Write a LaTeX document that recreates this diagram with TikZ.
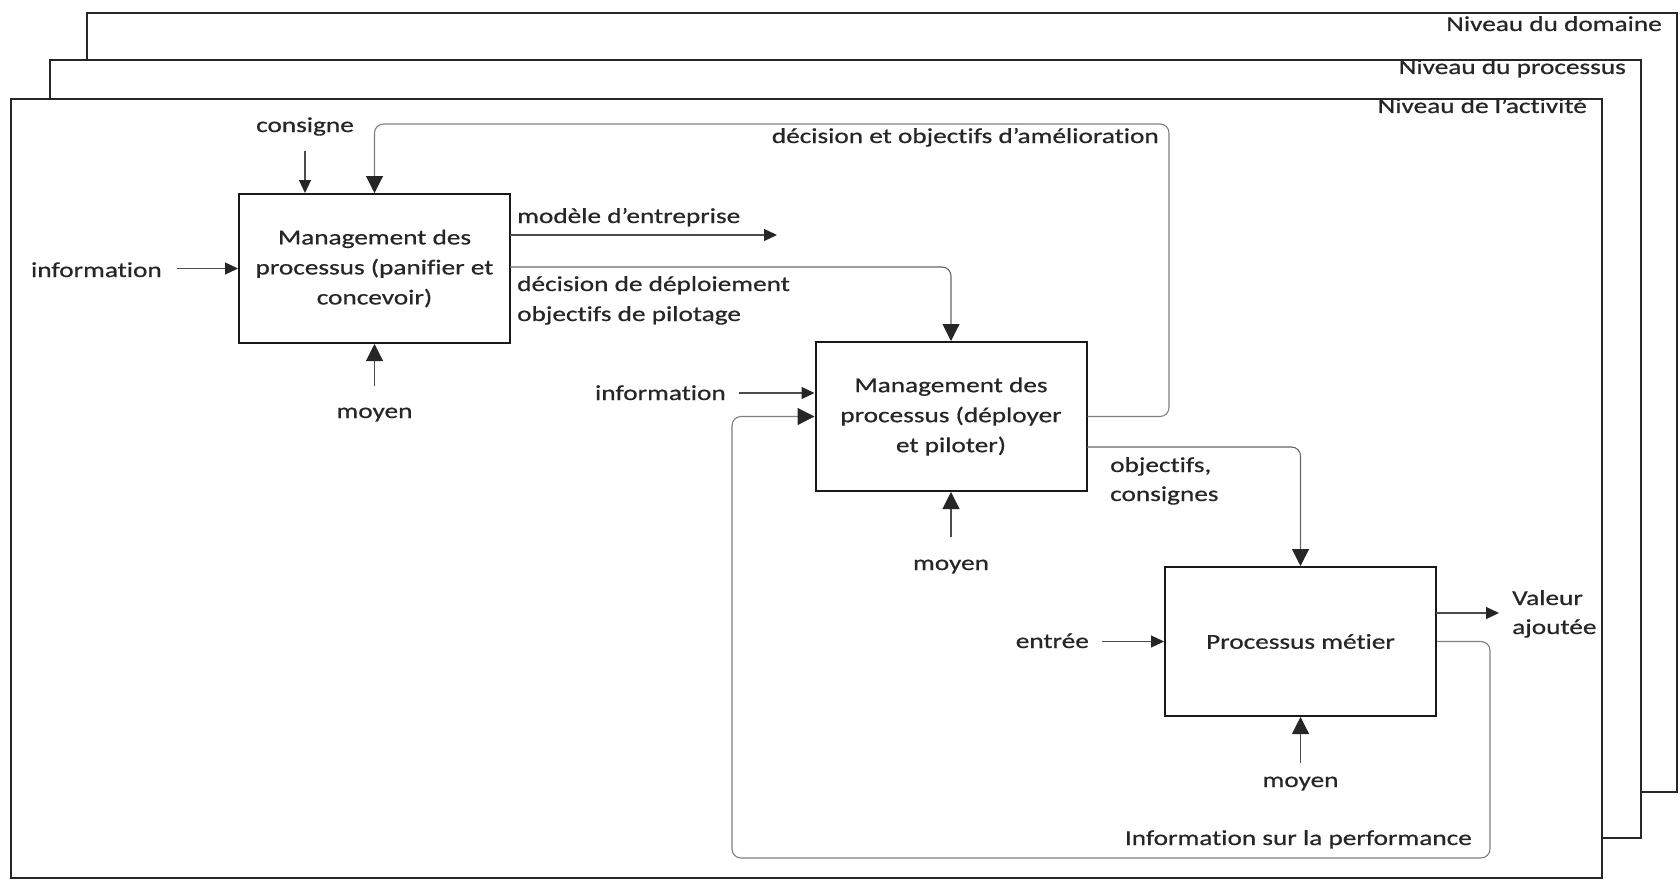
\documentclass[tikz,border=0pt]{standalone}
\usepackage{fontspec}
\setmainfont{Carlito}[FakeStretch=1.28, FakeBold=0.6, Ligatures=NoCommon]
\usetikzlibrary{arrows.meta}

\begin{document}
\begin{tikzpicture}[x=1pt,y=-1pt,
  every node/.style={font=\fontsize{21.3}{30}\selectfont, text=black!85, inner sep=0pt},
  sheet/.style={draw=black!85, line width=1.8pt, fill=white},
  procbox/.style={draw=black!90, line width=2pt, minimum width=271pt, minimum height=149pt, align=center},
  conn/.style={draw=black!70, line width=1.1pt},
  fb/.style={draw=black!50, line width=1.1pt, rounded corners=9pt},
  smalltip/.style={-{Triangle[length=13pt,width=12pt,color=black!85]}},
  bigtip/.style={-{Triangle[length=17pt,width=17pt,color=black!85]}},
]
\useasboundingbox (0,0) rectangle (1680,880);

% stacked sheets: domain, process, activity
\draw[sheet] (87,13) rectangle (1677,792);
\node[anchor=base east] (ldom) at (1662,31) {Niveau du domaine};
\draw[sheet] (50,60) rectangle (1641,838);
\node[anchor=base east] (lproc) at (1626,74) {Niveau du processus};
\draw[sheet] (11,99) rectangle (1602,878);
\node[anchor=base east] (lact) at (1587,113) {Niveau de l’activité};

% activity boxes
\node[procbox] (b1) at (374.5,268.5) {Management des\\processus (panifier et\\concevoir)};
\node[procbox] (b2) at (951,416.5) {Management des\\processus (déployer\\et piloter)};
\node[procbox] (b3) at (1300.5,641.5) {Processus métier};

% box 1: inputs, controls, resources, outputs
\node[anchor=base] (cons1) at (305,132) {consigne};
\coordinate (cons1s) at (305,151);
\draw[conn,smalltip] (cons1s) -- (cons1s |- b1.north);

\node[anchor=base east] (inf1) at (162,277) {information};
\coordinate (inf1e) at (177,268.5);
\draw[conn,smalltip] (inf1e) -- (b1.west);

\node[anchor=base] (moy1) at (374.5,418) {moyen};
\coordinate (moy1n) at (374.5,386);
\draw[conn,bigtip] (moy1n) -- (b1.south);

\coordinate (mod0) at (510,235);
\coordinate (mod1) at (777,235);
\draw[conn,smalltip] (mod0) -- (mod1);
\node[anchor=base west] (modl) at (517,223) {modèle d’entreprise};

\coordinate (dec0) at (510,267);
\draw[fb,draw=black!60,bigtip] (dec0) -| (b2.north);
\node[anchor=base west] (decl1) at (517,291) {décision de déploiement};
\node[anchor=base west] (decl2) at (517,321) {objectifs de pilotage};

% improvement loop from box 2 back to box 1
\coordinate (amel) at (1169,124);
\draw[fb,bigtip] (b2.east) -| (amel) -| (b1.north);
\node[anchor=base east] (amell) at (1159,143) {décision et objectifs d’amélioration};

% box 2
\node[anchor=base east] (inf2) at (726,400) {information};
\coordinate (inf2e) at (739,393);
\draw[conn,smalltip] (inf2e) -- (inf2e -| b2.west);

\node[anchor=base] (moy2) at (951,570) {moyen};
\coordinate (moy2n) at (951,537);
\draw[conn,bigtip] (moy2n) -- (b2.south);

\coordinate (obj0) at (1087,447);
\draw[fb,draw=black!60,bigtip] (obj0) -| (b3.north);
\node[anchor=base west] (objl1) at (1110,472) {objectifs,};
\node[anchor=base west] (objl2) at (1110,501) {consignes};

% box 3
\node[anchor=base east] (ent) at (1089,648) {entrée};
\coordinate (ente) at (1102,641.5);
\draw[conn,smalltip] (ente) -- (b3.west);

\node[anchor=base] (moy3) at (1300.5,787) {moyen};
\coordinate (moy3n) at (1300.5,763);
\draw[conn,bigtip] (moy3n) -- (b3.south);

\coordinate (val0) at (1436,613);
\coordinate (val1) at (1499,613);
\draw[conn,smalltip] (val0) -- (val1);
\node[anchor=base west] (vall1) at (1512,605) {Valeur};
\node[anchor=base west] (vall2) at (1512,634) {ajoutée};

% performance feedback loop from box 3 back to box 2
\coordinate (perf1) at (1490,858);
\coordinate (perf2) at (732,416.5);
\draw[fb,bigtip] (b3.east) -| (perf1) -| (perf2) -- (b2.west);
\node[anchor=base east] (perfl) at (1472,845) {Information sur la performance};

\end{tikzpicture}
\end{document}
